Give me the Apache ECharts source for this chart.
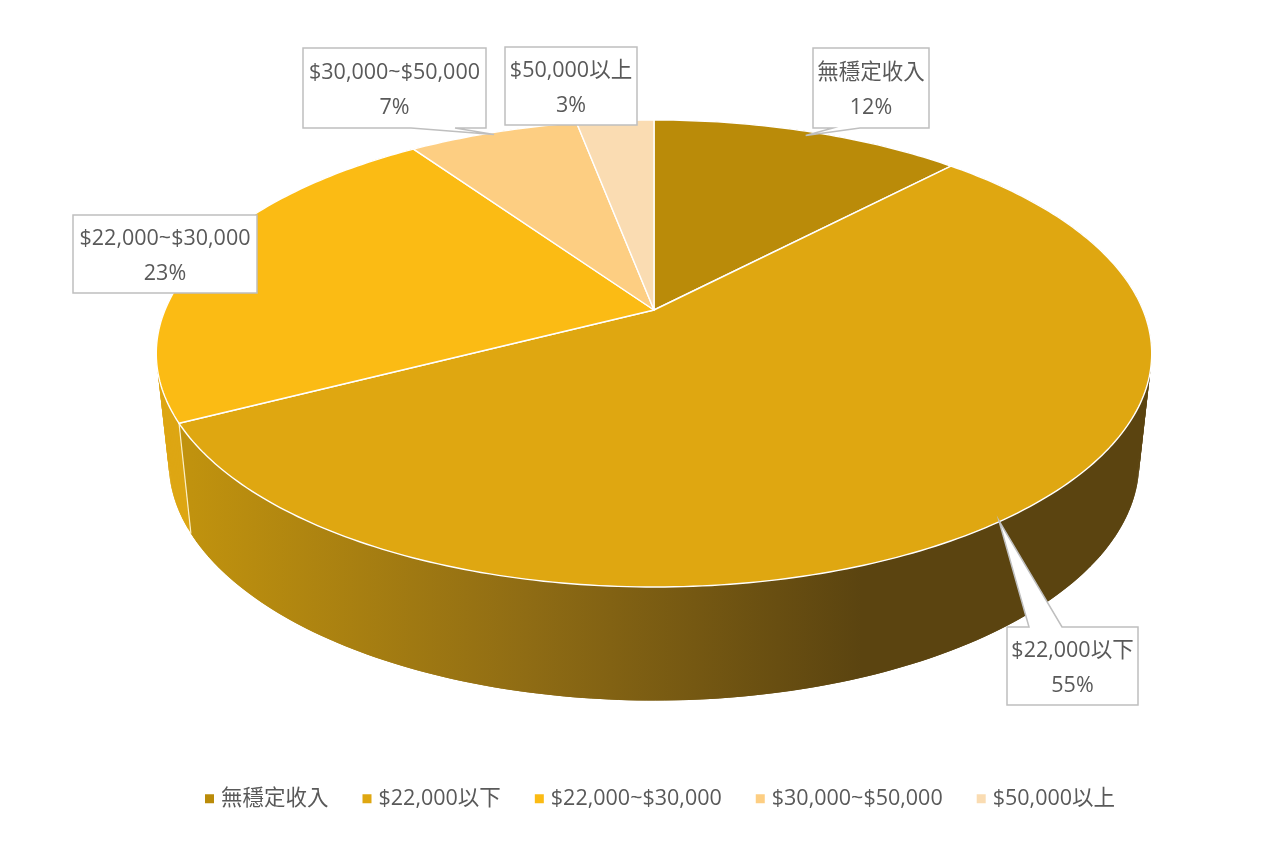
<!DOCTYPE html>
<html>
<head>
<meta charset="utf-8">
<style>html,body{margin:0;padding:0;background:#fff}#c{width:1269px;height:843px}</style>
<script src="https://cdn.jsdelivr.net/npm/echarts@6/dist/echarts.min.js"></script>
</head>
<body>
<div id="c"></div>
<script>
// ---- data ----
var categories = ['無穩定收入', '$22,000以下', '$22,000~$30,000', '$30,000~$50,000', '$50,000以上'];
var shares = [12.1, 55.3, 23, 6.6, 3];           // slice sizes estimated from the drawn angles
var percentLabels = ['12%', '55%', '23%', '7%', '3%'];
var topColors = ['#BA8B09', '#DFA711', '#FBBB14', '#FDCE82', '#FADCB2'];

// ---- layout / projection ----
var CX = 654, CY = 310, K = 0.1863;
var TOP = {x0: CX, y0: CY, b: 489, a: 225.4};
var BOT = {x0: CX, y0: 418, b: 489 * 0.975, a: 225.4 * 1.02};
var FAMILY = '"Open Sans","Noto Sans CJK TC",sans-serif';
var FONT = '21.5px ' + FAMILY;
var boxes = [
  {l: 813, t: 48, r: 929, b: 128, base: [833, 860], side: 'bottom', tipShift: [-3, 4]},
  {l: 1007, t: 627, r: 1138, b: 705, base: [1029, 1062], side: 'top', tipShift: [0, -1]},
  {l: 73, t: 215, r: 257, b: 293},
  {l: 303, t: 48, r: 486, b: 128, base: [411, 455], side: 'bottom', tipShift: [1, 2]},
  {l: 505, t: 47, r: 637, b: 125}
];

function project(plane, pct) {
  var th = pct / 100 * Math.PI * 2, u = Math.cos(th), v = Math.sin(th), w = 1 + K * u;
  return [plane.x0 + plane.b * v / w, plane.y0 - plane.a * u / w];
}
function arc(plane, from, to) {
  var pts = [], n = Math.max(2, Math.ceil((to - from) * 4));
  for (var i = 0; i <= n; i++) pts.push(project(plane, from + (to - from) * i / n));
  return pts;
}

var ranges = [], acc = 0;
shares.forEach(function (s) { ranges.push([acc, acc + s]); acc += s; });

var wallFront = new echarts.graphic.LinearGradient(192, 0, 862, 0, [
  {offset: 0, color: '#C0920E'}, {offset: 0.5, color: '#8F6C14'}, {offset: 1, color: '#5B4410'}
], true);
var wallFill = ['#8A6A08', wallFront, '#DDA613', '#C9A060', '#C9B08A'];

function renderWall(params, api) {
  var s = api.value(0), e = api.value(1), idx = params.dataIndex, kids = [];
  var T = arc(TOP, s, e), B = arc(BOT, s, e);
  for (var i = 0; i < T.length - 1; i++) {
    var j = Math.min(i + 2, T.length - 1);
    kids.push({type: 'polygon', silent: true, shape: {points: [T[i], T[j], B[j], B[i]]},
      style: {fill: wallFill[idx]}});
  }
  if (idx === 1) {
    kids.push({type: 'line', silent: true, z2: 5,
      shape: {x1: T[T.length - 1][0], y1: T[T.length - 1][1], x2: B[B.length - 1][0], y2: B[B.length - 1][1]},
      style: {stroke: '#FBEFC8', lineWidth: 1.2}});
  }
  return {type: 'group', children: kids};
}
function renderTop(color) {
  return function (params, api) {
    var pts = [[CX, CY]].concat(arc(TOP, api.value(0), api.value(1)));
    return {type: 'polygon', silent: true, shape: {points: pts},
      style: {fill: color, stroke: '#FFFFFF', lineWidth: 1.4, lineJoin: 'round'}};
  };
}
function renderLabel(params, api) {
  var i = params.dataIndex, b = boxes[i], pts;
  var tip = project(TOP, (api.value(0) + api.value(1)) / 2);
  if (b.tipShift) tip = [tip[0] + b.tipShift[0], tip[1] + b.tipShift[1]];
  if (b.side === 'bottom') {
    pts = [[b.l, b.t], [b.r, b.t], [b.r, b.b], [b.base[1], b.b], tip, [b.base[0], b.b], [b.l, b.b]];
  } else if (b.side === 'top') {
    pts = [[b.l, b.t], [b.base[0], b.t], tip, [b.base[1], b.t], [b.r, b.t], [b.r, b.b], [b.l, b.b]];
  } else {
    pts = [[b.l, b.t], [b.r, b.t], [b.r, b.b], [b.l, b.b]];
  }
  var mx = (b.l + b.r) / 2, my = (b.t + b.b) / 2;
  return {type: 'group', children: [
    {type: 'polygon', silent: true, shape: {points: pts},
      style: {fill: '#FFFFFF', stroke: '#BFBFBF', lineWidth: 1.5}},
    {type: 'text', silent: true, style: {text: categories[i], x: mx, y: my - 15, fill: '#595959',
      font: FONT, align: 'center', verticalAlign: 'middle'}},
    {type: 'text', silent: true, style: {text: percentLabels[i], x: mx, y: my + 20, fill: '#595959',
      font: FONT, align: 'center', verticalAlign: 'middle'}}
  ]};
}

var series = [{type: 'custom', name: '側面', coordinateSystem: 'none', z: 1, silent: true,
  renderItem: renderWall, data: ranges, animation: false}];
categories.forEach(function (name, i) {
  series.push({type: 'custom', name: name, coordinateSystem: 'none', z: 2, silent: true,
    itemStyle: {color: topColors[i]}, renderItem: renderTop(topColors[i]),
    data: [ranges[i]], animation: false});
});
series.push({type: 'custom', name: '標籤', coordinateSystem: 'none', z: 3, silent: true,
  renderItem: renderLabel, data: ranges, animation: false});

var chart = echarts.init(document.getElementById('c'), null, {renderer: 'canvas'});
chart.setOption({
  animation: false,
  backgroundColor: '#FFFFFF',
  legend: {
    data: categories, left: 200, top: 783, selectedMode: false, icon: 'rect',
    itemWidth: 9, itemHeight: 9, itemGap: 34,
    textStyle: {color: '#595959', fontSize: 21.5, fontFamily: FAMILY, padding: [0, 0, 0, 2]}
  },
  series: series
});
</script>
</body>
</html>
